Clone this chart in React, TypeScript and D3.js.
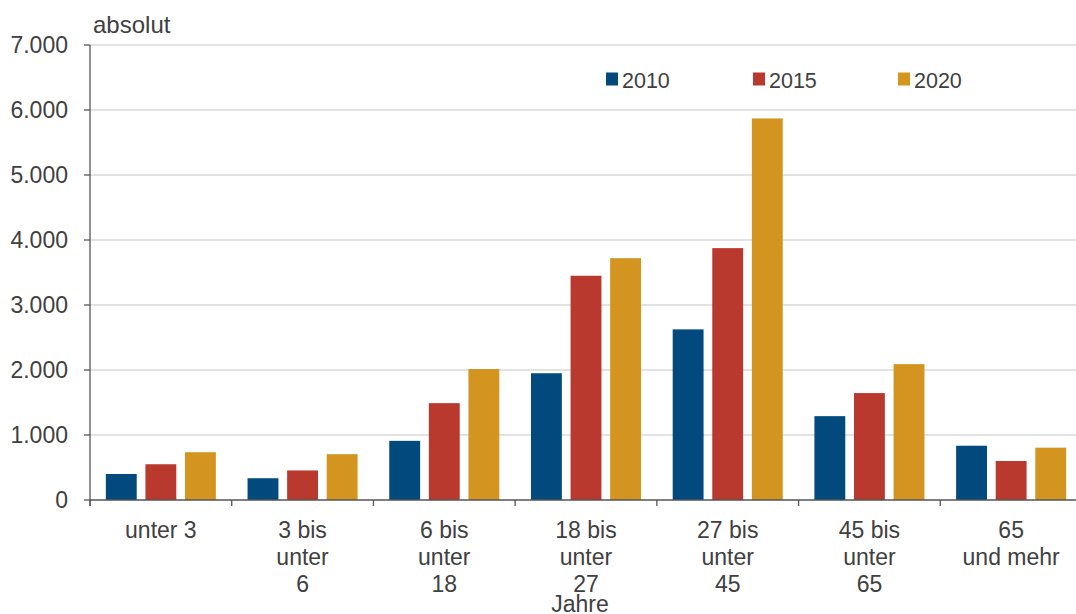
import React from "react";
import * as d3 from "d3";

const categories: string[][] = [
  ["unter 3"],
  ["3 bis", "unter", "6"],
  ["6 bis", "unter", "18"],
  ["18 bis", "unter", "27"],
  ["27 bis", "unter", "45"],
  ["45 bis", "unter", "65"],
  ["65", "und mehr"],
];
const seriesNames = ["2010", "2015", "2020"];
const values2010 = [400, 335, 910, 1950, 2625, 1290, 835];
const values2015 = [550, 455, 1490, 3450, 3875, 1645, 600];
const values2020 = [735, 705, 2015, 3720, 5870, 2090, 805];
const yTicks = [0, 1000, 2000, 3000, 4000, 5000, 6000, 7000];
const colors = ["#024a7e", "#ba392e", "#d39520"];

const W = 1076;
const H = 614;
const left = 90;
const right = 1082;
const top = 45;
const bottom = 500;
const font = "'Liberation Sans', Arial, sans-serif";
const textColor = "#404040";

export default function App() {
  const series = [values2010, values2015, values2020];
  const x0 = d3
    .scaleBand<number>()
    .domain(categories.map((_, i) => i))
    .range([left, right])
    .padding(0);
  const x1 = d3
    .scaleBand<string>()
    .domain(seriesNames)
    .range([0, x0.bandwidth()])
    .paddingInner(0.22)
    .paddingOuter(0.4);
  const y = d3.scaleLinear().domain([0, 7000]).range([bottom, top]);
  const fmt = (v: number) => d3.format(",")(v).replace(/,/g, ".");

  const legendX = [606, 753, 898];

  return (
    <svg
      width={W}
      height={H}
      style={{ position: "absolute", left: 0, top: 0, background: "#fff" }}
      fontFamily={font}
    >
      <rect x={0} y={0} width={W} height={H} fill="#fff" />
      {yTicks.map((t) => (
        <g key={t}>
          {t > 0 && (
            <line x1={left} x2={right} y1={y(t)} y2={y(t)} stroke="#d9d9d9" strokeWidth={1.5} />
          )}
          <line x1={left - 6} x2={left} y1={y(t)} y2={y(t)} stroke="#555" strokeWidth={1.3} />
          <text x={68} y={y(t) + 8.3} textAnchor="end" fontSize={23} fill={textColor}>
            {fmt(t)}
          </text>
        </g>
      ))}
      <text x={93} y={33} fontSize={24} fill={textColor}>
        absolut
      </text>
      {series.map((vals, s) =>
        vals.map((v, i) => (
          <rect
            key={`${s}-${i}`}
            x={(x0(i) as number) + (x1(seriesNames[s]) as number)}
            y={y(v)}
            width={x1.bandwidth()}
            height={y(0) - y(v)}
            fill={colors[s]}
          />
        ))
      )}
      <line x1={left} x2={left} y1={top} y2={bottom + 6} stroke="#555" strokeWidth={1.3} />
      <line x1={left} x2={right} y1={bottom} y2={bottom} stroke="#555" strokeWidth={1.3} />
      {categories.map((_, i) => (
        <line
          key={`t${i}`}
          x1={(x0(i) as number)}
          x2={(x0(i) as number)}
          y1={bottom}
          y2={bottom + 6}
          stroke="#555"
          strokeWidth={1.3}
        />
      ))}
      {categories.map((lines, i) => (
        <text
          key={`c${i}`}
          x={(x0(i) as number) + x0.bandwidth() / 2}
          textAnchor="middle"
          fontSize={23}
          fill={textColor}
        >
          {lines.map((l, j) => (
            <tspan key={j} x={(x0(i) as number) + x0.bandwidth() / 2} y={537.5 + j * 27.3}>
              {l}
            </tspan>
          ))}
        </text>
      ))}
      <text x={580} y={611.5} textAnchor="middle" fontSize={23} fill={textColor}>
        Jahre
      </text>
      {seriesNames.map((n, s) => (
        <g key={n}>
          <rect x={legendX[s]} y={72.5} width={12} height={13} fill={colors[s]} />
          <text x={legendX[s] + 16} y={88.3} fontSize={21.5} fill={textColor}>
            {n}
          </text>
        </g>
      ))}
    </svg>
  );
}
